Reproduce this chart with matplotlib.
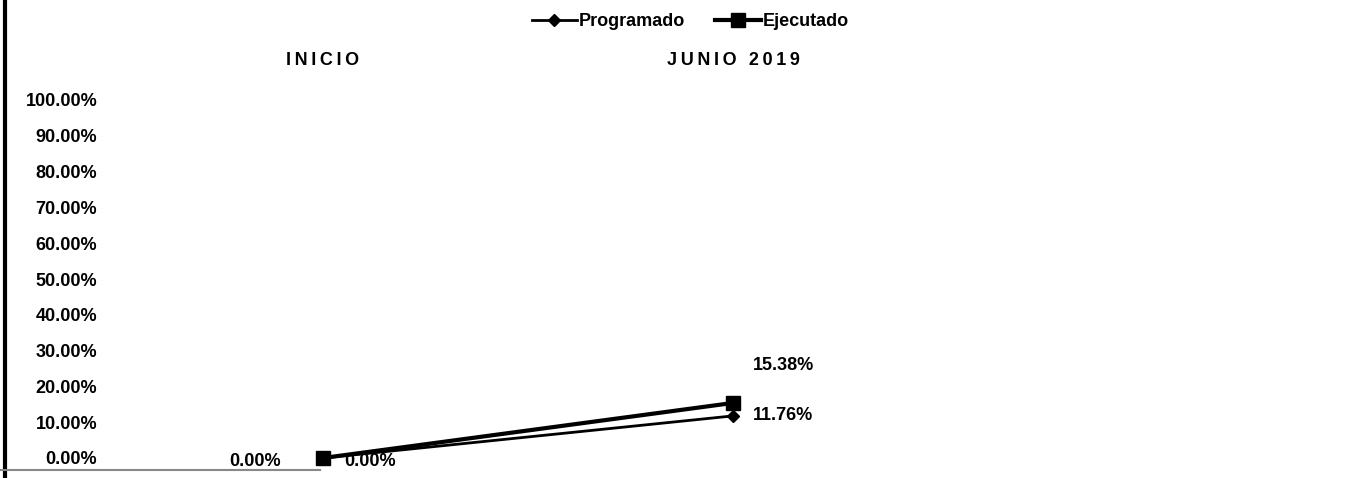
import matplotlib
matplotlib.use("Agg")
import matplotlib.pyplot as plt
from matplotlib.lines import Line2D

categories = ["INICIO", "JUNIO 2019"]
programado = [0.0, 0.1176]
ejecutado = [0.0, 0.1538]
yticks = [i / 10 for i in range(11)]

plt.rcParams['font.family'] = ['Liberation Sans', 'DejaVu Sans']
plt.rcParams['font.weight'] = 'bold'
FS = 13

W, H = 1355, 478
fig = plt.figure(figsize=(W / 100, H / 100), dpi=100)
# axes placed so that categories land at x=323 / 733 px, 0% at y=458, 100% at y=100
ax = fig.add_axes([118 / W, (H - 458) / H, 1230 / W, 358 / H])
ax.set_xlim(-0.5, 2.5)
ax.set_ylim(0, 1)

x = range(len(categories))
ax.plot(x, programado, color='k', linewidth=2, marker='D', markersize=6,
        label='Programado', clip_on=False)
ax.plot(x, ejecutado, color='k', linewidth=3, marker='s', markersize=10,
        label='Ejecutado', clip_on=False)

# data labels
ax.annotate(f"{programado[0]:.2%}", (0, programado[0]), xytext=(-68, -4),
            textcoords='offset pixels', ha='center', va='center', fontsize=FS)
ax.annotate(f"{ejecutado[0]:.2%}", (0, ejecutado[0]), xytext=(47, -4),
            textcoords='offset pixels', ha='center', va='center', fontsize=FS)
ax.annotate(f"{programado[1]:.2%}", (1, programado[1]), xytext=(50, 0),
            textcoords='offset pixels', ha='center', va='center', fontsize=FS)
ax.annotate(f"{ejecutado[1]:.2%}", (1, ejecutado[1]), xytext=(50, 37),
            textcoords='offset pixels', ha='center', va='center', fontsize=FS)

ax.set_yticks(yticks)
ax.set_yticklabels([f"{v:.2%}" for v in yticks], fontsize=FS)
ax.set_xticks(list(x))
# letter-spaced category labels as in the original
ax.set_xticklabels(["\u2009".join(c) for c in categories], fontsize=FS)
ax.xaxis.tick_top()
ax.tick_params(axis='both', length=0)
ax.tick_params(axis='y', pad=15)
ax.tick_params(axis='x', pad=22)
for s in ax.spines.values():
    s.set_visible(False)

ax.legend(loc='center', bbox_to_anchor=(690 / W, 1 - 22 / H),
          bbox_transform=fig.transFigure, ncol=2, frameon=False,
          fontsize=FS, handlelength=2.5, columnspacing=1.7,
          handletextpad=0.1)

# frame remnants from the scanned chart
fig.add_artist(Line2D([5 / W, 5 / W], [0, 1], transform=fig.transFigure,
                      color='k', linewidth=3))
fig.add_artist(Line2D([0, 320 / W], [(H - 470) / H, (H - 470) / H],
                      transform=fig.transFigure, color='#888888', linewidth=1.5))

fig.savefig("out.png", dpi=100)
